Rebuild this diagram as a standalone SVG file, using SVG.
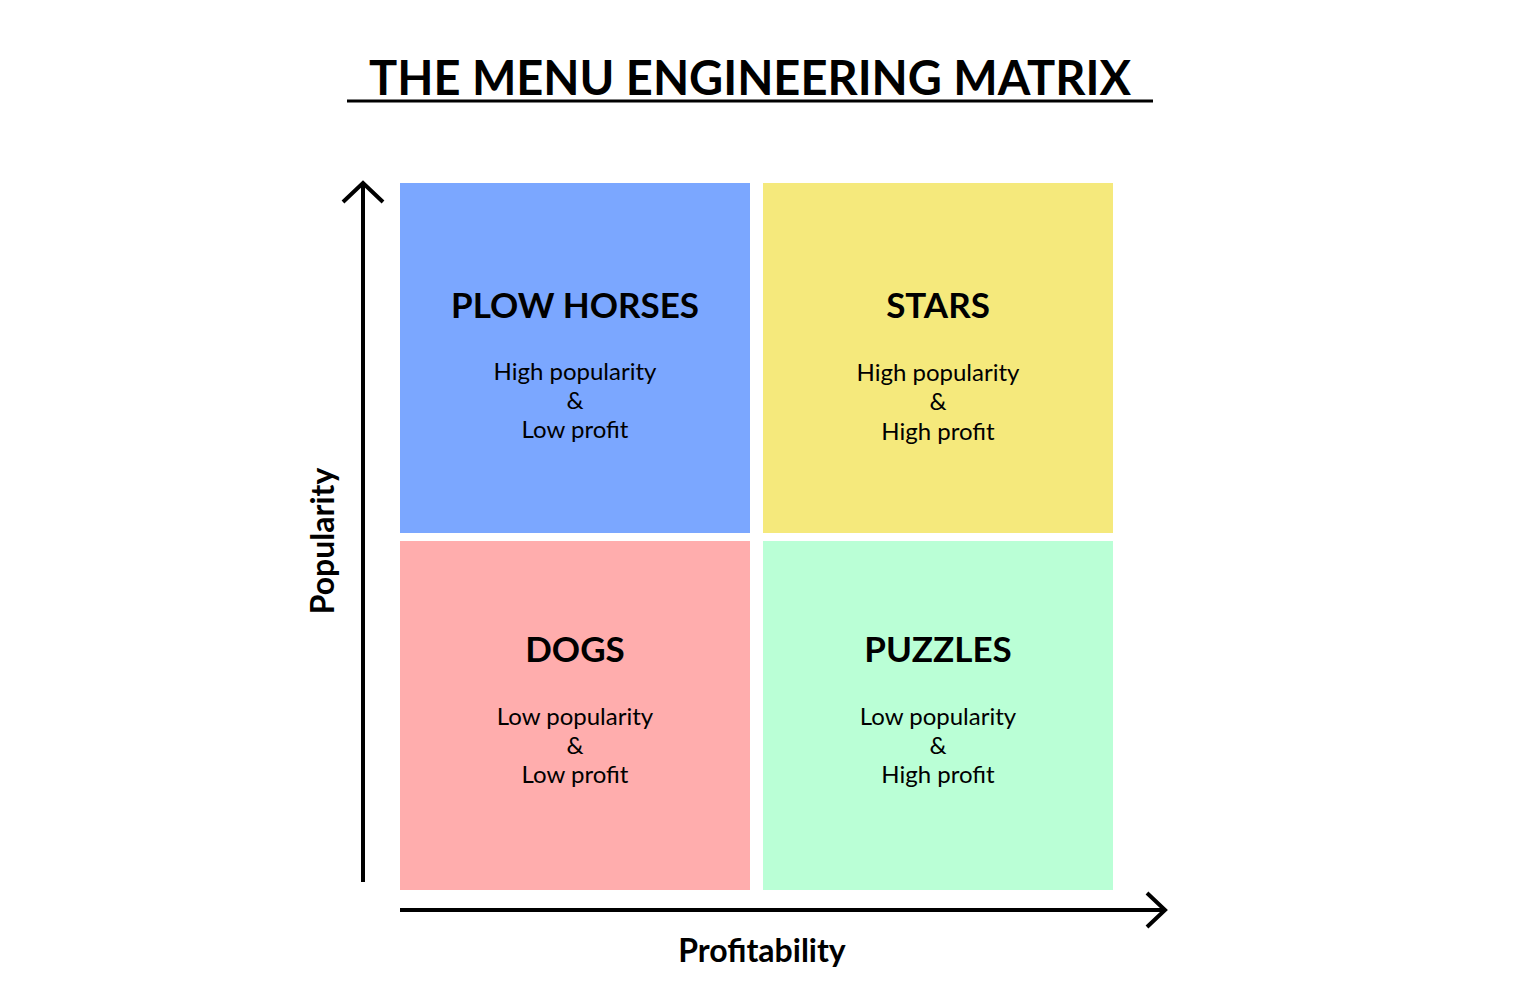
<svg xmlns="http://www.w3.org/2000/svg" width="1526" height="995" viewBox="0 0 1526 995">
<style>
text{font-family:Lato,"Open Sans","Liberation Sans",sans-serif;fill:#000;text-anchor:middle}
.h{font-size:35px;font-weight:700}
.s{font-size:24px}
.ax{font-size:32px;font-weight:700}
.ln{stroke:#000;stroke-width:4;fill:none}
</style>
<rect width="1526" height="995" fill="#fff"/>
<text x="750" y="95" style="font-size:47px;font-weight:700">THE MENU ENGINEERING MATRIX</text>
<line x1="347" y1="101" x2="1153" y2="101" stroke="#000" stroke-width="3"/>
<g id="plow"><rect x="400" y="183" width="350" height="350" fill="#7BA7FF"/>
<text x="575" y="318" class="h">PLOW HORSES</text>
<text x="575" y="380" class="s">High popularity</text><text x="575" y="409" class="s">&amp;</text><text x="575" y="438" class="s">Low profit</text></g>
<g id="stars"><rect x="763" y="183" width="350" height="350" fill="#F5E97C"/>
<text x="938" y="318" class="h">STARS</text>
<text x="938" y="381" class="s">High popularity</text><text x="938" y="410" class="s">&amp;</text><text x="938" y="440" class="s">High profit</text></g>
<g id="dogs"><rect x="400" y="541" width="350" height="349" fill="#FFADAD"/>
<text x="575" y="662" class="h">DOGS</text>
<text x="575" y="725" class="s">Low popularity</text><text x="575" y="754" class="s">&amp;</text><text x="575" y="783" class="s">Low profit</text></g>
<g id="puzzles"><rect x="763" y="541" width="350" height="349" fill="#BAFFD6"/>
<text x="938" y="662" class="h">PUZZLES</text>
<text x="938" y="725" class="s">Low popularity</text><text x="938" y="754" class="s">&amp;</text><text x="938" y="783" class="s">High profit</text></g>
<g id="connectors">
<line class="ln" x1="363" y1="882" x2="363" y2="185"/>
<polyline class="ln" points="343,202 363,183 383,202"/>
<line class="ln" x1="400" y1="910" x2="1164" y2="910"/>
<polyline class="ln" points="1147,893 1165,910 1147,927"/>
</g>
<text x="0" y="0" class="ax" transform="translate(334,541) rotate(-90)">Popularity</text>
<text x="762" y="962" class="ax">Profitability</text>
</svg>
